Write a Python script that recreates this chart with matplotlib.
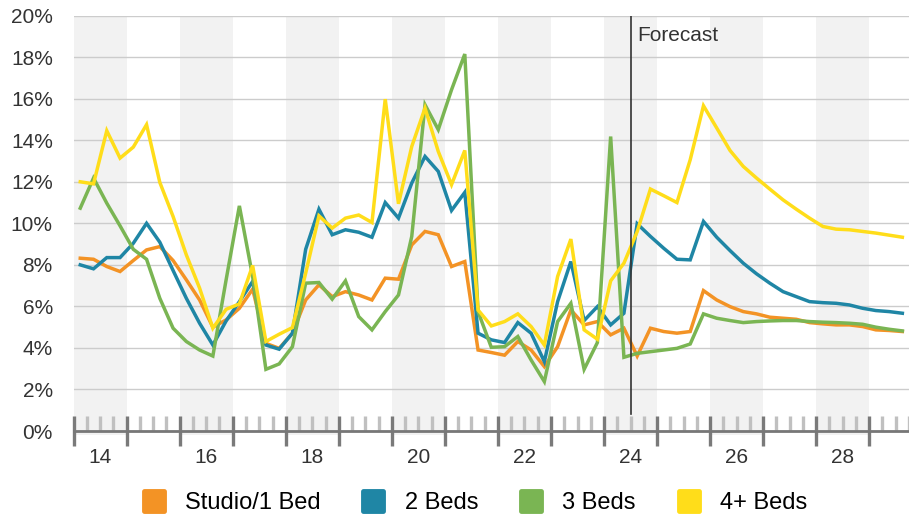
import numpy as np
import pandas as pd
import matplotlib
matplotlib.use("Agg")
import matplotlib.pyplot as plt
from matplotlib.lines import Line2D
from matplotlib.markers import MarkerStyle

plt.rcParams['font.family'] = ['Liberation Sans', 'DejaVu Sans']

# quarterly data, 2014Q1 .. 2029Q3 (forecast from 2024Q3)
quarters = pd.period_range('2014Q1', '2029Q3', freq='Q')

studio = [8.32, 8.27, 7.92, 7.68, 8.21, 8.72, 8.88, 8.21, 7.28, 6.31,
          5.0, 5.35, 5.91, 6.83, 4.22, 3.98, 4.71, 6.31, 7.04, 6.47,
          6.71, 6.55, 6.31, 7.36, 7.31, 8.96, 9.61, 9.45, 7.92, 8.16,
          3.9, 3.78, 3.65, 4.31, 3.9, 3.1, 4.06, 5.83, 5.11, 5.27,
          4.63, 4.95, 3.61, 4.95, 4.79, 4.71, 4.79, 6.76, 6.31, 5.99,
          5.75, 5.64, 5.48, 5.43, 5.38, 5.22, 5.16, 5.11, 5.11, 5.03,
          4.87, 4.84, 4.79]
beds2 = [8.0, 7.81, 8.35, 8.35, 9.04, 10.0, 9.09, 7.73, 6.39, 5.19,
         4.14, 5.3, 6.23, 7.2, 4.14, 3.94, 4.71, 8.75, 10.68, 9.45,
         9.69, 9.57, 9.33, 11.0, 10.25, 11.94, 13.22, 12.5, 10.62, 11.49,
         4.71, 4.39, 4.26, 5.22, 4.71, 3.34, 6.23, 8.16, 5.32, 5.99,
         5.11, 5.67, 9.98, 9.37, 8.8, 8.27, 8.24, 10.09, 9.33, 8.69,
         8.08, 7.57, 7.12, 6.71, 6.47, 6.23, 6.18, 6.15, 6.07, 5.91,
         5.8, 5.75, 5.67]
beds3 = [10.73, 12.18, 10.97, 9.88, 8.75, 8.27, 6.39, 4.95, 4.31, 3.9,
         3.61, 7.28, 10.84, 7.44, 2.97, 3.23, 4.06, 7.12, 7.15, 6.35,
         7.23, 5.51, 4.87, 5.75, 6.55, 9.37, 15.71, 14.51, 16.43, 18.15,
         5.75, 4.03, 4.06, 4.55, 3.42, 2.38, 5.27, 6.15, 2.97, 4.26,
         14.18, 3.55, 3.74, 3.82, 3.9, 3.98, 4.19, 5.64, 5.43, 5.32,
         5.22, 5.27, 5.3, 5.32, 5.32, 5.27, 5.24, 5.22, 5.19, 5.14,
         5.0, 4.9, 4.82]
beds4 = [12.0, 11.9, 14.46, 13.14, 13.67, 14.75, 11.97, 10.33, 8.48, 6.88,
         4.95, 5.86, 6.12, 7.97, 4.31, 4.66, 4.98, 7.6, 10.36, 9.77,
         10.25, 10.4, 10.04, 15.98, 10.94, 13.7, 15.55, 13.46, 11.86, 13.51,
         5.83, 5.06, 5.27, 5.64, 5.03, 4.14, 7.44, 9.24, 4.87, 4.42,
         7.23, 8.08, 9.6, 11.65, 11.33, 11.0, 13.06, 15.66, 14.59, 13.51,
         12.74, 12.18, 11.65, 11.13, 10.68, 10.25, 9.85, 9.72, 9.69, 9.61,
         9.53, 9.43, 9.33]

labels = ['Studio/1 Bed', '2 Beds', '3 Beds', '4+ Beds']
colors = ['#F39325', '#1F86A5', '#7AB553', '#FFDD1A']
forecast_start = 2024.5

x = np.array([q.year + (q.quarter - 0.5) / 4 for q in quarters])

fig = plt.figure(figsize=(9.09, 5.16), dpi=100)
ax = fig.add_axes([0.081, 0.1647, 0.919, 0.805])

# alternating year bands
for yr in range(2014, 2030, 2):
    ax.axvspan(yr, yr + 1, ymin=-0.01, ymax=1, color='#F2F2F2', lw=0,
               zorder=0, clip_on=False)

ax.set_ylim(0, 20)
ax.set_xlim(2014, 2029.67)
ax.set_yticks(range(0, 21, 2))
ax.set_yticklabels([f'{v}%' for v in range(0, 21, 2)])
ax.grid(axis='y', color='#CCCCCC', lw=1, zorder=1)
ax.tick_params(axis='y', length=0, pad=15, labelsize=15, labelcolor='#333333')

for s in ['top', 'right', 'left']:
    ax.spines[s].set_visible(False)
ax.spines['bottom'].set_color('#777777')
ax.spines['bottom'].set_linewidth(2)

ax.set_xticks(range(2014, 2030))
ax.set_xticklabels([])
ax.set_xticks([yr + q / 4 for yr in range(2014, 2030) for q in (1, 2, 3)], minor=True)
ax.tick_params(axis='x', which='major', direction='inout', length=22, width=2.4, color='#7A7A7A')
ax.tick_params(axis='x', which='minor', direction='in', length=11, width=2.4, color='#C0C0C0')

sec = ax.secondary_xaxis('bottom')
sec.set_xticks([yr + 0.5 for yr in range(2014, 2030, 2)])
sec.set_xticklabels([str(yr % 100) for yr in range(2014, 2030, 2)])
sec.tick_params(length=0, pad=12, labelsize=15, labelcolor='#333333')
sec.spines['bottom'].set_visible(False)

for vals, lab, c in zip([studio, beds2, beds3, beds4], labels, colors):
    ax.plot(x, vals, color=c, lw=2.5, label=lab, zorder=3, solid_joinstyle='miter')

ax.axvline(forecast_start, ymin=0.04, ymax=1, color='#333333', lw=1.2, zorder=4)
ax.text(forecast_start + 0.12, 19.5, 'Forecast', fontsize=15, color='#333333',
        va='top', ha='left')

sq = MarkerStyle('s', joinstyle='round')
handles = [Line2D([], [], marker=sq, ls='', markersize=14, markerfacecolor=c,
                  markeredgecolor=c, markeredgewidth=3.5) for c in colors]
fig.legend(handles, labels, loc='center', bbox_to_anchor=(0.522, 0.025), ncol=4,
           frameon=False, fontsize=17, handlelength=1.0, handletextpad=0.82,
           columnspacing=1.74, borderpad=0)

fig.savefig('out.png', dpi=100)
